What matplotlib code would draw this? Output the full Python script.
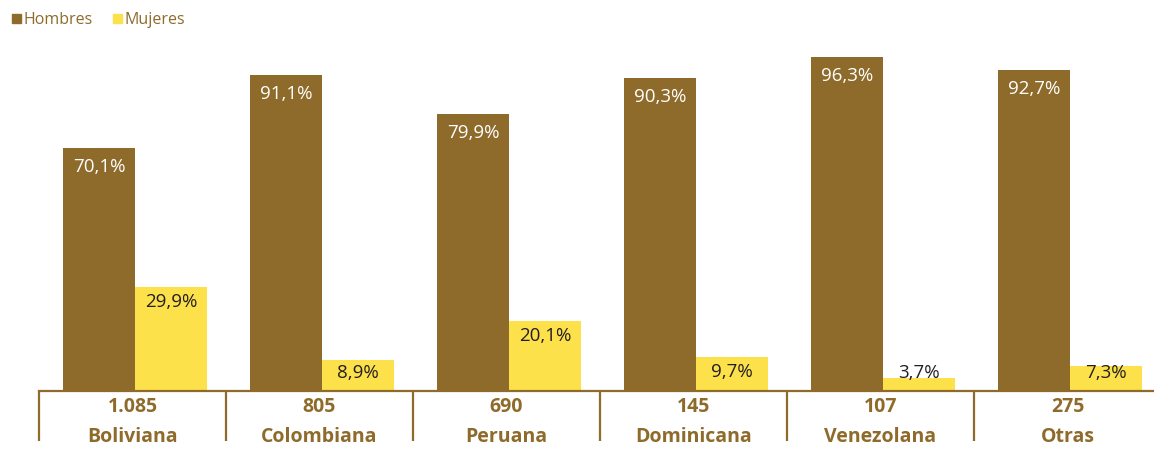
import numpy as np
import matplotlib.pyplot as plt
from matplotlib.patches import Patch

plt.rcParams['font.family'] = ['Open Sans', 'DejaVu Sans']

nacionalidades = ["Boliviana", "Colombiana", "Peruana", "Dominicana", "Venezolana", "Otras"]
totales = ["1.085", "805", "690", "145", "107", "275"]
hombres = [70.1, 91.1, 79.9, 90.3, 96.3, 92.7]
mujeres = [29.9, 8.9, 20.1, 9.7, 3.7, 7.3]

BROWN = "#8E6B2B"
YELLOW = "#FCE14B"
DARK = "#231F20"

W, H = 1154, 449
fig = plt.figure(figsize=(W / 100, H / 100), dpi=100)
# axes: x group boundaries every 187px starting at 39px, baseline at 391px
ax = fig.add_axes([39 / W, 1 - 391 / H, 1122 / W, 346.6 / H])
ax.set_xlim(0, 6)
ax.set_ylim(0, 100)

x = np.arange(len(nacionalidades))
bw = 72 / 187
off = 24 / 187
ax.bar(x + off, hombres, width=bw, align="edge", color=BROWN)
ax.bar(x + off + bw, mujeres, width=bw, align="edge", color=YELLOW)

px = 346.6 / 100  # pixels per percent
for i in range(len(x)):
    ax.text(x[i] + off + bw / 2, hombres[i] - 19 / px, f"{hombres[i]:.1f}%".replace(".", ","),
            ha="center", va="center", color="white", fontsize=13.5)
    ym = max(mujeres[i] - 14.5 / px, 18 / px)
    ax.text(x[i] + off + 1.5 * bw, ym, f"{mujeres[i]:.1f}%".replace(".", ","),
            ha="center", va="center", color=DARK, fontsize=13.5)
    ax.annotate(totales[i], xy=(x[i] + 0.5, 0), xycoords=("data", "axes fraction"),
                xytext=(0, -16.5 * 0.72), textcoords="offset points",
                ha="center", va="center", color=BROWN, fontsize=14, fontweight="bold")
    ax.annotate(nacionalidades[i], xy=(x[i] + 0.5, 0), xycoords=("data", "axes fraction"),
                xytext=(0, -46.5 * 0.72), textcoords="offset points",
                ha="center", va="center", color=BROWN, fontsize=14, fontweight="bold")

for s in ["top", "right", "left"]:
    ax.spines[s].set_visible(False)
ax.spines["bottom"].set_color(BROWN)
ax.spines["bottom"].set_linewidth(1.6)
ax.set_yticks([])
ax.set_xticks(x)
ax.set_xticklabels([])
ax.tick_params(axis="x", length=50 * 0.72, width=1.6, color=BROWN, direction="out")

handles = [Patch(color=BROWN, label="Hombres"), Patch(color=YELLOW, label="Mujeres")]
leg = fig.legend(handles=handles, loc="upper left", bbox_to_anchor=(0.0, 1.0), ncol=2,
                 frameon=False, fontsize=11.5, handlelength=0.55, handleheight=0.55,
                 handletextpad=0.15, columnspacing=1.3, borderaxespad=0.35)
for t in leg.get_texts():
    t.set_color(BROWN)

fig.savefig("out.png", dpi=100)
